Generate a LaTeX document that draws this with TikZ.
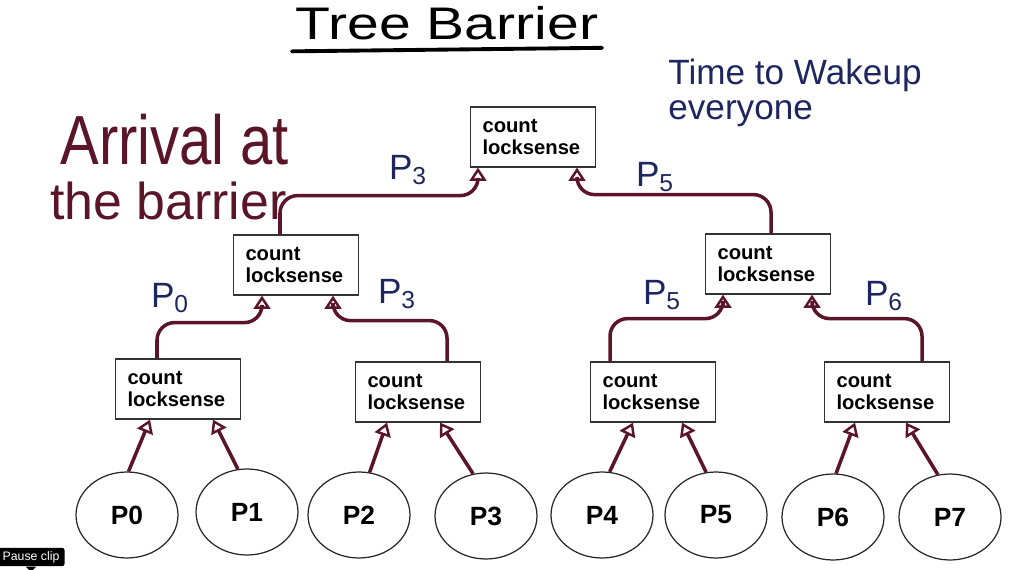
\documentclass[tikz,border=0pt]{standalone}
\usepackage{fontspec}
\setmainfont{Liberation Sans}
\usetikzlibrary{
    positioning,
    arrows.meta,
    shapes.geometric,
    calc
}
\definecolor{pen}{HTML}{5A1628}
\definecolor{ink}{HTML}{1E2660}
\tikzset{
    >={Triangle[open, length=7.5pt, width=9.5pt, line width=1.4pt]},
    lockbox/.style={
        draw=black!80,
        line width=0.7pt,
        rectangle,
        minimum height=1.2cm,
        text width=2.02cm,
        inner xsep=0.24cm,
        inner ysep=2pt,
        align=left,
        font=\bfseries\fontsize{11.5}{13}\selectfont
    },
    proc/.style={
        draw=black!85,
        line width=0.7pt,
        ellipse,
        minimum width=2.04cm,
        minimum height=1.72cm,
        font=\bfseries\fontsize{15}{17}\selectfont
    },
    link/.style={
        ->,
        color=pen,
        line width=2pt,
        rounded corners=10pt
    },
    hand/.style={
        text=ink,
        inner sep=1pt,
        font=\fontsize{20}{20}\selectfont
    }
}

\begin{document}
\begin{tikzpicture}[x=0.02cm, y=-0.02cm]

    \useasboundingbox (0,0) rectangle (1027,570);

    % Titulo
    \node[anchor=base, inner sep=2pt, font=\fontsize{26}{26}\selectfont]
        (title) at (447,40) {\scalebox{1.25}[1]{Tree Barrier}};
    \draw[line width=2.2pt, line cap=round]
        ([yshift=-4pt]title.south west) -- ([yshift=-2pt]title.south east);

    % Notas
    \node[anchor=base west, inner sep=0pt, text=pen,
          font=\fontsize{33}{33}\selectfont]
        (arrival1) at (60,165) {\scalebox{1}[1.2]{Arrival at}};
    \node[anchor=base west, inner sep=0pt, text=pen,
          font=\fontsize{29.5}{30}\selectfont]
        (arrival2) at (50,220) {the barrier};
    \node[anchor=north west, align=left, inner sep=0pt, text=ink,
          font=\fontsize{20}{20}\selectfont]
        (wakeup) at (668,59) {Time to Wakeup\\everyone};

    % Raiz
    \node[lockbox] (root) at (533,137) {count\\locksense};

    % Nivel medio
    \node[lockbox] (mid1) at (296,265) {count\\locksense};
    \node[lockbox] (mid2) at (768,264) {count\\locksense};

    % Nivel inferior
    \node[lockbox] (b1) at (178,389) {count\\locksense};
    \node[lockbox] (b2) at (418,392) {count\\locksense};
    \node[lockbox] (b3) at (653,392) {count\\locksense};
    \node[lockbox] (b4) at (887,392) {count\\locksense};

    % Procesos
    \node[proc] (p0) at (127,515) {P0};
    \node[proc] (p1) at (247,512) {P1};
    \node[proc] (p2) at (359,515) {P2};
    \node[proc] (p3) at (486,516) {P3};
    \node[proc] (p4) at (602,515) {P4};
    \node[proc] (p5) at (716,515) {P5};
    \node[proc] (p6) at (833,517) {P6};
    \node[proc] (p7) at (950,517) {P7};

    % Llegadas a las hojas
    \path[link]
        (p0.88)  edge ($(b1.south)+(-28,0)$)
        (p1.102) edge ($(b1.south)+(35,0)$)
        (p2.76)  edge ($(b2.south)+(-31,0)$)
        (p3.107) edge ($(b2.south)+(22,0)$)
        (p4.80)  edge ($(b3.south)+(-20,0)$)
        (p5.103) edge ($(b3.south)+(29,0)$)
        (p6.86)  edge ($(b4.south)+(-32,0)$)
        (p7.106) edge ($(b4.south)+(19,0)$);

    % Hojas hacia el nivel medio
    \draw[link] ($(b1.north)+(-21,0)$) |- ($(mid1.south)+(-34,27)$)
        -- ($(mid1.south)+(-34,0)$);
    \draw[link] ($(b2.north)+(29,0)$) |- ($(mid1.south)+(37,25)$)
        -- ($(mid1.south)+(37,0)$);
    \draw[link] ($(b3.north)+(-43,0)$) |- ($(mid2.south)+(-45,24)$)
        -- ($(mid2.south)+(-45,0)$);
    \draw[link] ($(b4.north)+(35,0)$) |- ($(mid2.south)+(44,24)$)
        -- ($(mid2.south)+(44,0)$);

    % Nivel medio hacia la raiz
    \draw[link] ($(mid1.north)+(-16,0)$) |- ($(root.south)+(-55,28)$)
        -- ($(root.south)+(-55,0)$);
    \draw[link] ($(mid2.north)+(3,0)$) |- ($(root.south)+(44,27)$)
        -- ($(root.south)+(44,0)$);

    % Etiquetas
    \node[hand] (lbl0) at (170,298) {P\textsubscript{0}};
    \node[hand] (lbl3) at (397,294) {P\textsubscript{3}};
    \node[hand] (lbl5) at (662,295) {P\textsubscript{5}};
    \node[hand] (lbl6) at (884,296) {P\textsubscript{6}};
    \node[hand] (top3) at (408,170) {P\textsubscript{3}};
    \node[hand] (top5) at (655,177) {P\textsubscript{5}};

    % Boton
    \node[fill=black, text=white, rounded corners=1.5pt, inner xsep=3pt,
          inner ysep=2pt, font=\fontsize{7}{8}\selectfont]
        (pause) at (31,557) {Pause clip};
    \fill ([xshift=-3pt]pause.south) -- ([xshift=3pt]pause.south)
        -- ([yshift=-3pt]pause.south) -- cycle;

\end{tikzpicture}
\end{document}
